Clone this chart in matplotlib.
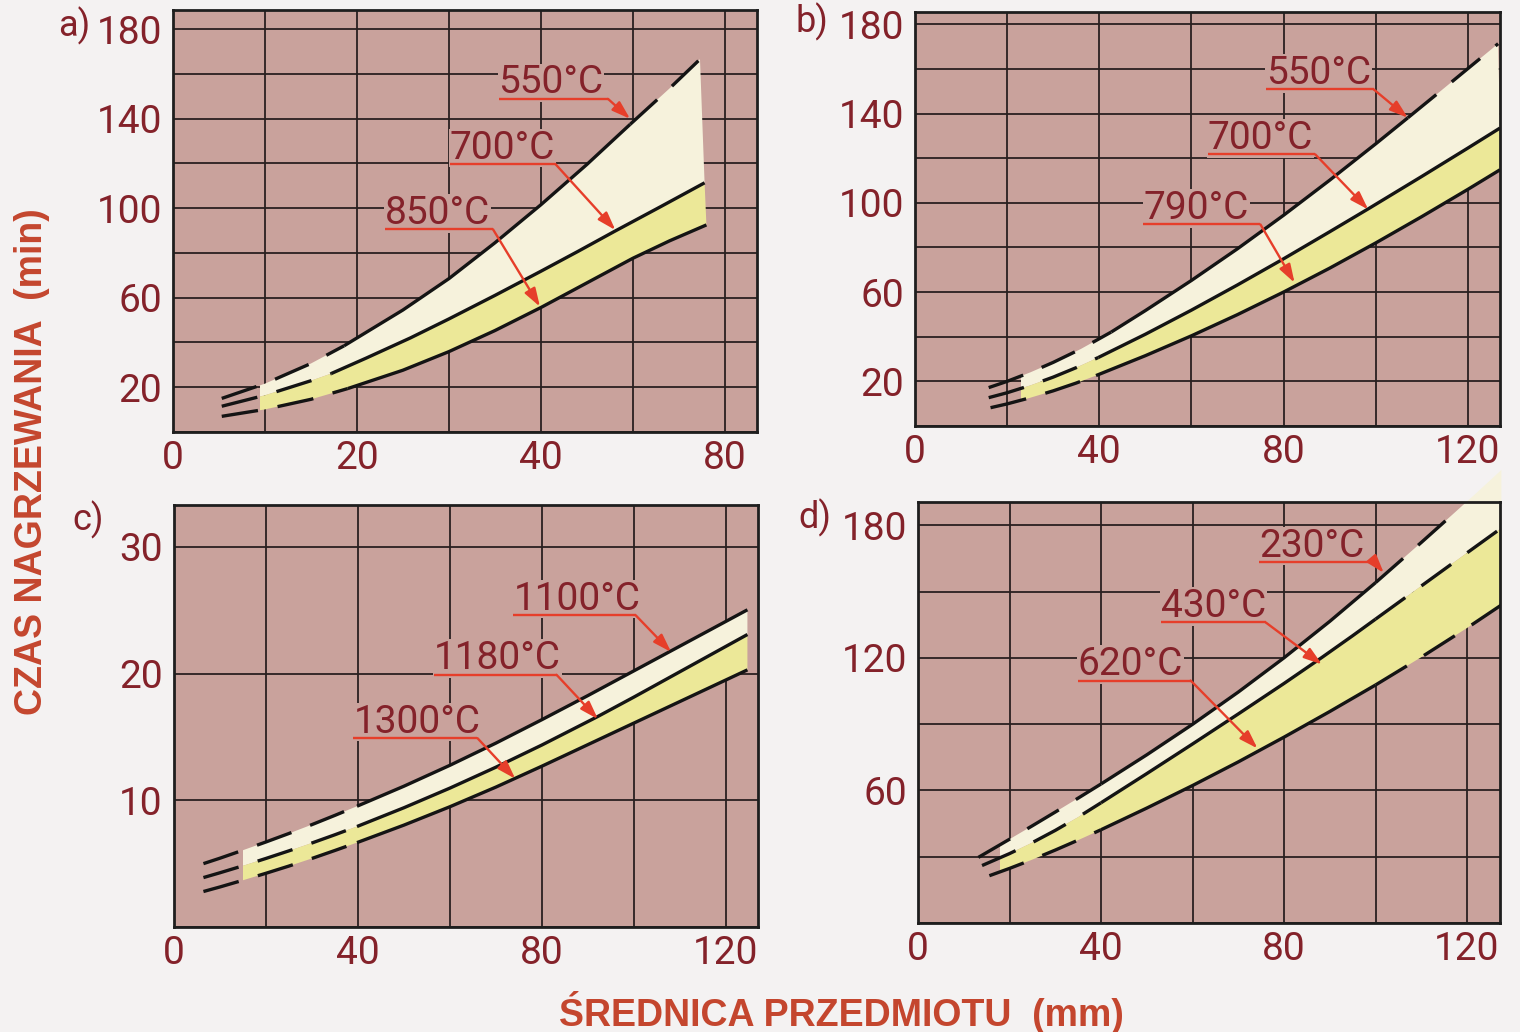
import numpy as np
import matplotlib.pyplot as plt
from matplotlib.patches import Rectangle
from matplotlib.transforms import offset_copy

plt.rcParams['font.family'] = ['Roboto', 'DejaVu Sans']

# ---- a) ----
a_top_x = [5.3, 10, 15, 18.6, 25, 30, 35, 40, 45, 49.7, 54, 57.3]
a_top_y = [15, 21.6, 30.6, 38.5, 54.5, 68.5, 84.5, 101.5, 119.5, 137.4, 153.5, 166.5]
a_mid_x = [5.3, 10, 15, 17.2, 21, 25.8, 30, 35, 40, 44, 48, 53, 57.8]
a_mid_y = [11.5, 16.4, 22.9, 26.1, 33, 42, 50.5, 61, 71.8, 80.6, 89.6, 100.6, 111.3]
a_bot_x = [5.3, 10, 15, 19, 25, 30, 35, 40, 45, 50, 54, 58]
a_bot_y = [7, 10.1, 14.6, 19.4, 27.6, 35.9, 45.3, 55.6, 66.6, 77.6, 85.4, 92.5]
a_labels = ['550°C', '700°C', '850°C']
a_xticks = [0, 20, 40, 60]
a_xticklabels = ['0', '20', '40', '80']
a_yticks = [20, 60, 100, 140, 180]

# ---- b) ----
b_top_x = [16, 20, 25, 30, 36, 42.6, 50, 60, 70, 80, 90, 100, 107, 114, 120, 126.6]
b_top_y = [17.2, 20.0, 24.0, 28.5, 34.5, 42.1, 51.7, 65.2, 79.4, 94.4, 110.1, 126.4, 138.1, 149.9, 160.1, 171.3]
b_mid_x = [16, 20, 25, 30, 35, 39.8, 50, 60, 70, 80, 90, 98.4, 110, 120, 127]
b_mid_y = [12.7, 14.9, 18.15, 21.9, 26.15, 30.7, 41.1, 51.9, 63.2, 74.9, 87, 97.3, 111.8, 124.5, 133.5]
b_bot_x = [16.4, 20, 25, 30, 35, 39.3, 50, 60, 70, 80, 90, 100, 110, 120, 127]
b_bot_y = [8.2, 9.9, 12.65, 15.75, 19.25, 22.6, 31.5, 40.4, 49.9, 60, 70.7, 82, 93.8, 106, 114.8]
b_labels = ['550°C', '700°C', '790°C']
b_xticks = [0, 40, 80, 120]
b_xticklabels = ['0', '40', '80', '120']
b_yticks = [20, 60, 100, 140, 180]

# ---- c) ----
c_top_x = [6.4, 10, 15, 20, 25, 30, 35, 39.8, 50, 60, 70, 80, 90, 100, 108, 116, 124.7]
c_top_y = [5.0, 5.43, 6.06, 6.71, 7.38, 8.08, 8.81, 9.53, 11.11, 12.76, 14.51, 16.36, 18.26, 20.21, 21.77, 23.33, 25.03]
c_mid_x = [6.4, 10, 15, 20, 25, 30, 35, 39.8, 50, 60, 70, 80, 92, 100, 110, 124.7]
c_mid_y = [3.9, 4.28, 4.83, 5.41, 6.01, 6.63, 7.28, 7.93, 9.41, 10.96, 12.61, 14.36, 16.58, 18.14, 20.14, 23.08]
c_bot_x = [6.4, 10, 15, 20, 25, 30, 35, 39.8, 50, 60, 70, 80, 90, 100, 110, 124.7]
c_bot_y = [2.8, 3.16, 3.69, 4.24, 4.81, 5.41, 6.04, 6.66, 8.04, 9.49, 11.04, 12.69, 14.39, 16.09, 17.79, 20.29]
c_labels = ['1100°C', '1180°C', '1300°C']
c_xticks = [0, 40, 80, 120]
c_xticklabels = ['0', '40', '80', '120']
c_yticks = [10, 20, 30]

# ---- d) ----
d_top_x = [13.2, 20, 25, 30, 35, 40, 50, 60, 70, 80, 90, 100, 110, 116.7, 122, 127.5]
d_top_y = [29.7, 37.9, 44, 50.2, 56.5, 62.9, 76.1, 89.9, 104.5, 120, 136.5, 154, 172.2, 184.6, 194.5, 205]
d_mid_x = [14, 20, 25, 30, 35, 40, 50, 60, 70, 80, 88.3, 95, 100, 110, 120, 127.5]
d_mid_y = [26, 31.4, 36.4, 41.9, 47.9, 54.4, 67.6, 81, 94.6, 108.4, 120.2, 130, 137.5, 152.5, 167.5, 178.7]
d_bot_x = [15.6, 20, 25, 30, 35, 40, 50, 60, 70, 80, 90, 100, 110, 120, 127.5]
d_bot_y = [21.4, 24.7, 28.7, 33, 37.5, 42.2, 52, 62.2, 72.9, 84.1, 95.7, 107.7, 120.3, 133.5, 143.9]
d_labels = ['230°C', '430°C', '620°C']
d_xticks = [0, 40, 80, 120]
d_xticklabels = ['0', '40', '80', '120']
d_yticks = [60, 120, 180]

# colours
BG = '#c9a29c'
PAGE = '#f4f2f2'
CREAM = '#f6f2dc'
YELLOW = '#ece898'
RED = '#e63e2a'
DARK_RED = '#84222a'
TITLE = '#c4462e'
INK = '#141414'
DASH = (0, (11, 6))

fig = plt.figure(figsize=(15.2, 10.32), dpi=100)
fig.patch.set_facecolor(PAGE)


def draw_curve(ax, x, y, segs):
    for i0, i1, ls in segs:
        ax.plot(x[i0:i1 + 1], y[i0:i1 + 1], color=INK, lw=2.4,
                linestyle=DASH if ls == '--' else '-',
                solid_capstyle='butt', dash_capstyle='butt',
                solid_joinstyle='round', zorder=4)


def band(ax, xu, yu, xl, yl, color, x0):
    xs = list(xu) + list(xl)[::-1]
    ys = list(yu) + list(yl)[::-1]
    poly = ax.fill(xs, ys, color=color, lw=0, zorder=2)[0]
    clip = Rectangle((x0, -1000), 1000, 5000, transform=ax.transData)
    poly.set_clip_path(clip)


def tag(ax, text, x0, x1, yu, xt, yt):
    ax.plot([x0, x1], [yu, yu], color=RED, lw=1.7, zorder=6, solid_capstyle='butt')
    ax.annotate('', xy=(xt, yt), xytext=(x1, yu),
                arrowprops=dict(arrowstyle='-|>,head_length=0.55,head_width=0.18',
                                color=RED, lw=1.7, shrinkA=0, shrinkB=0,
                                mutation_scale=20), zorder=6)
    tr = offset_copy(ax.transData, fig=ax.figure, y=4, units='points')
    ax.text(x0, yu, text, transform=tr, fontsize=28, fontweight='normal',
            color=DARK_RED, ha='left', va='baseline', zorder=3.5,
            bbox=dict(fc=BG, ec='none', pad=0.5))


panels = [
    dict(letter='a)', letter_xy=(58, 26), box=(173, 10, 757, 432),
         xlim=(0, 63.5), ylim=(0, 188.5), xstep=10, ystep=20,
         curves=[(a_top_x, a_top_y), (a_mid_x, a_mid_y), (a_bot_x, a_bot_y)],
         segs=[[(0, 3, '--'), (3, 9, '-'), (9, 11, '--')],
               [(0, 3, '--'), (3, 12, '-')],
               [(0, 3, '--'), (3, 11, '-')]],
         fill_from=9.5,
         xticks=a_xticks, xticklabels=a_xticklabels, yticks=a_yticks,
         labels=a_labels,
         tags=[(35.4, 47.3, 148.8, 49.7, 139.9), (30.1, 41.6, 119.6, 48.1, 90.2),
               (23, 34.8, 90.5, 39.9, 56)]),
    dict(letter='b)', letter_xy=(796, 22), box=(915, 12, 1500, 426),
         xlim=(0, 127), ylim=(0, 185.5), xstep=20, ystep=20,
         curves=[(b_top_x, b_top_y), (b_mid_x, b_mid_y), (b_bot_x, b_bot_y)],
         segs=[[(0, 5, '--'), (5, 12, '-'), (12, 15, '--')],
               [(0, 5, '--'), (5, 14, '-')],
               [(0, 5, '--'), (5, 14, '-')]],
         fill_from=23,
         xticks=b_xticks, xticklabels=b_xticklabels, yticks=b_yticks,
         labels=b_labels,
         tags=[(76.2, 99.6, 150.8, 107, 138.1), (63.6, 86.9, 121.7, 98.4, 97),
               (49.6, 75, 90.3, 82.4, 64.2)]),
    dict(letter='c)', letter_xy=(72, 520), box=(174, 505, 758, 927),
         xlim=(0, 127), ylim=(0, 33.3), xstep=20, ystep=10,
         curves=[(c_top_x, c_top_y), (c_mid_x, c_mid_y), (c_bot_x, c_bot_y)],
         segs=[[(0, 7, '--'), (7, 16, '-')],
               [(0, 7, '--'), (7, 15, '-')],
               [(0, 7, '--'), (7, 15, '-')]],
         fill_from=15,
         xticks=c_xticks, xticklabels=c_xticklabels, yticks=c_yticks,
         labels=c_labels,
         tags=[(73.8, 100.4, 24.6, 108.1, 21.7), (56.6, 83.2, 19.9, 92.2, 16.4),
               (39, 66, 14.9, 74.2, 11.7)]),
    dict(letter='d)', letter_xy=(798, 518), box=(918, 502, 1500, 923),
         xlim=(0, 127.2), ylim=(0, 190.5), xstep=20, ystep=30,
         curves=[(d_top_x, d_top_y), (d_mid_x, d_mid_y), (d_bot_x, d_bot_y)],
         segs=[[(0, 5, '--'), (5, 11, '-'), (11, 13, '--')],
               [(0, 5, '--'), (5, 12, '-'), (12, 15, '--')],
               [(0, 5, '--'), (5, 11, '-'), (11, 14, '--')]],
         fill_from=18,
         xticks=d_xticks, xticklabels=d_xticklabels, yticks=d_yticks,
         labels=d_labels,
         tags=[(74.6, 99.8, 163.3, 101.8, 158.4), (53.1, 76, 136, 88.3, 117),
               (34.9, 59.6, 109.7, 74.2, 79)]),
]

W, H = 1520, 1032
for p in panels:
    l, t, r, b = p['box']
    ax = fig.add_axes([l / W, 1 - b / H, (r - l) / W, (b - t) / H])
    ax.set_facecolor(BG)
    ax.set_xlim(*p['xlim'])
    ax.set_ylim(*p['ylim'])

    # grid on every step, labels only on the listed ticks
    xg = np.arange(0, p['xlim'][1], p['xstep'])
    yg = np.arange(0, p['ylim'][1], p['ystep'])
    ax.set_xticks(xg)
    ax.set_yticks(yg)
    xl = dict(zip(p['xticks'], p['xticklabels']))
    ax.set_xticklabels([xl.get(v, '') for v in xg], fontsize=28, color=DARK_RED)
    ax.set_yticklabels([str(int(v)) if v in p['yticks'] else '' for v in yg],
                       fontsize=28, color=DARK_RED)
    ax.tick_params(length=0)
    ax.tick_params(axis='x', pad=6)
    ax.tick_params(axis='y', pad=8)
    ax.grid(True, color='#2a2020', lw=1.3)
    ax.set_axisbelow(True)
    for s in ax.spines.values():
        s.set_color('#1e1e1e')
        s.set_linewidth(2)

    (tx, ty), (mx, my), (bx, by) = p['curves']
    band(ax, tx, ty, mx, my, CREAM, p['fill_from'])
    band(ax, mx, my, bx, by, YELLOW, p['fill_from'])

    for (x, y), segs in zip(p['curves'], p['segs']):
        draw_curve(ax, x, y, segs)

    for text, spec in zip(p['labels'], p['tags']):
        tag(ax, text, *spec)

    lx, ly = p['letter_xy']
    fig.text(lx / W, 1 - ly / H, p['letter'], fontsize=26,
             color=DARK_RED, ha='left', va='center')

fig.text(32 / W, 1 - 462 / H, 'CZAS NAGRZEWANIA  (min)', rotation=90,
         fontsize=27, fontweight='bold', color=TITLE, ha='center', va='center',
         family=['Liberation Sans', 'DejaVu Sans'])
fig.text(841 / W, 1 - 1012 / H, 'ŚREDNICA PRZEDMIOTU  (mm)',
         fontsize=27, fontweight='bold', color=TITLE, ha='center', va='center',
         family=['Liberation Sans', 'DejaVu Sans'])

fig.savefig('out.png', dpi=100, facecolor=PAGE)
